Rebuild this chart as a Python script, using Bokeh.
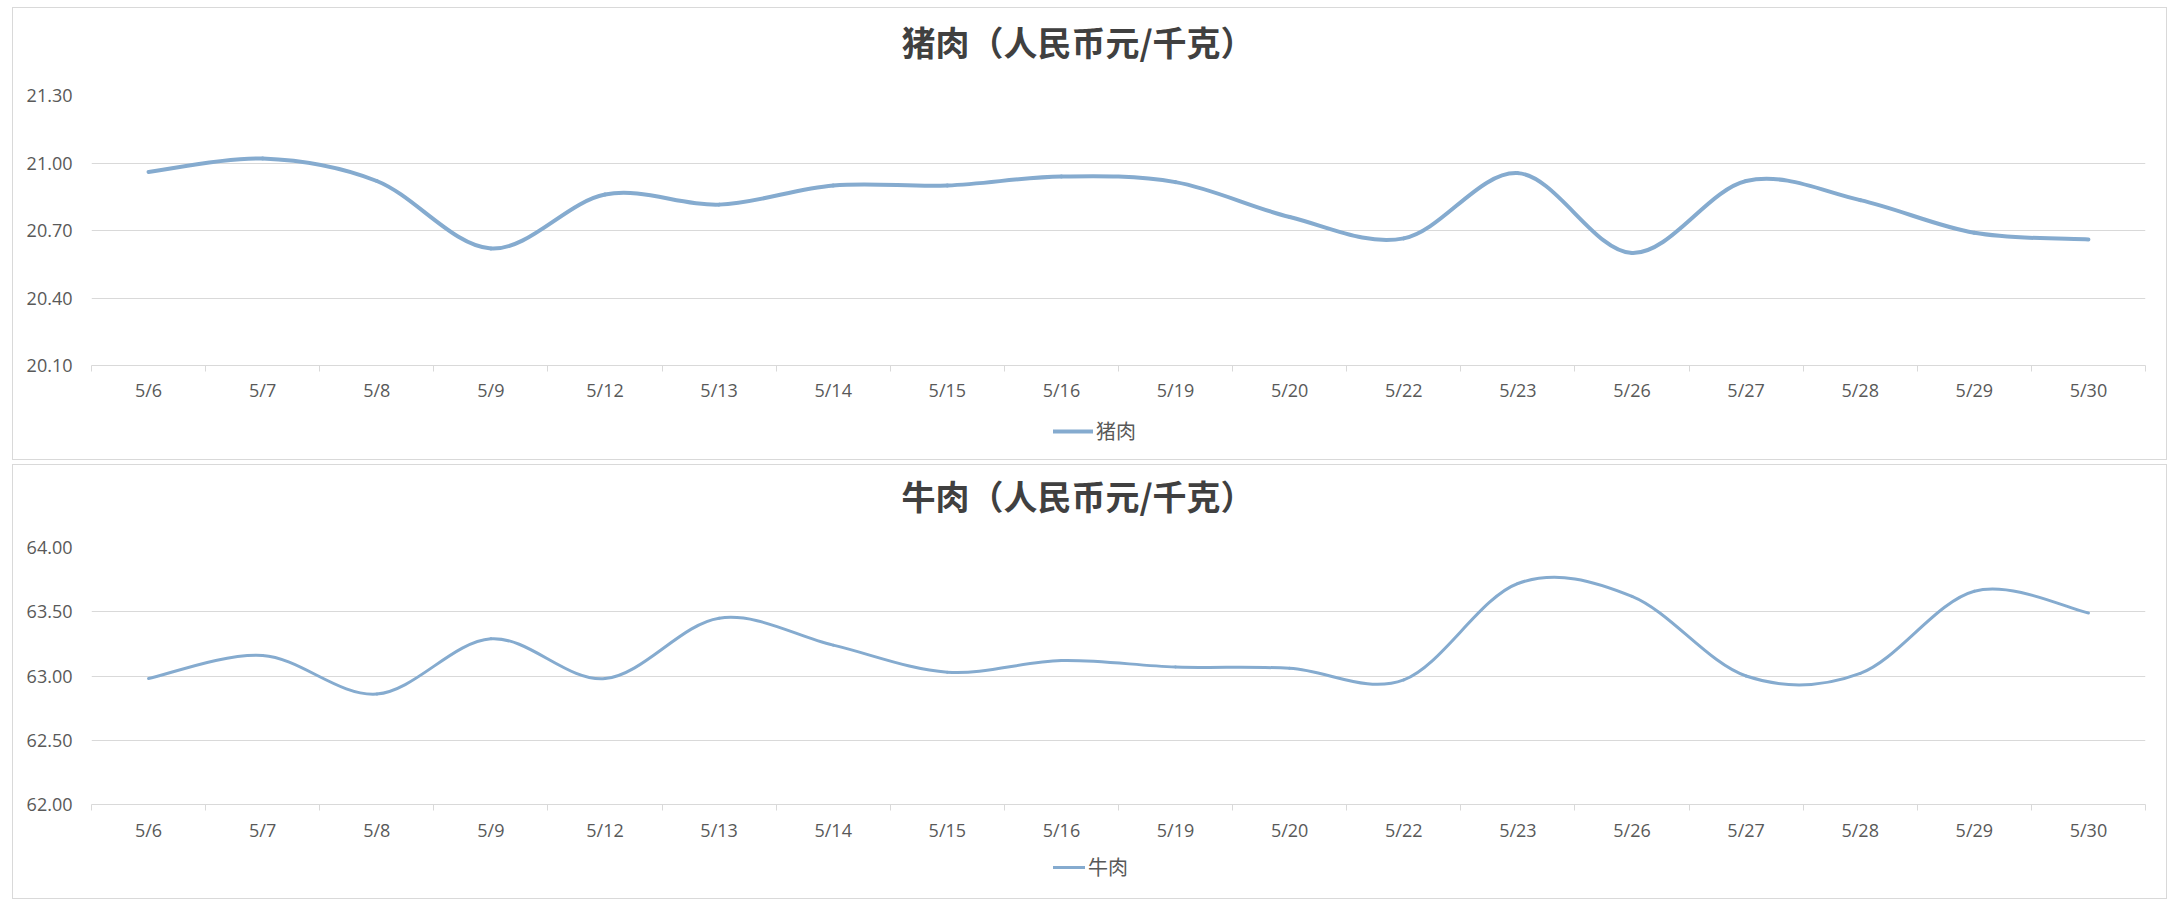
from bokeh.plotting import figure
from bokeh.models import Range1d, FixedTicker, Legend, LegendItem, ColumnDataSource, Label
from bokeh.layouts import column
from bokeh.embed import file_html
from bokeh.resources import INLINE

dates = ["5/6", "5/7", "5/8", "5/9", "5/12", "5/13", "5/14", "5/15", "5/16",
         "5/19", "5/20", "5/22", "5/23", "5/26", "5/27", "5/28", "5/29", "5/30"]
pork = [20.96, 21.02, 20.92, 20.62, 20.86, 20.815, 20.90, 20.90, 20.94,
        20.915, 20.76, 20.665, 20.955, 20.60, 20.92, 20.835, 20.69, 20.66]
beef = [62.98, 63.16, 62.86, 63.29, 62.98, 63.45, 63.24, 63.03, 63.12,
        63.07, 63.06, 62.97, 63.72, 63.62, 63.00, 63.02, 63.66, 63.49]
pork_ticks = [20.10, 20.40, 20.70, 21.00, 21.30]
beef_ticks = [62.00, 62.50, 63.00, 63.50, 64.00]
pork_title = "猪肉（人民币元/千克）"
beef_title = "牛肉（人民币元/千克）"
pork_name = "猪肉"
beef_name = "牛肉"

LINE = "#85abcf"
GRID = "#d9d9d9"
TXT = "#595959"
CJK = "Noto Sans CJK SC"
NUM = "Open Sans"
W = 2153
LEFT, FRAME_W = 78, 2054


def smooth_cols(xs, ys):
    n = len(xs)
    d = dict(x0=[], y0=[], x1=[], y1=[], cx0=[], cy0=[], cx1=[], cy1=[])
    for i in range(n - 1):
        a = i - 1 if i > 0 else i
        b = i + 2 if i + 2 < n else i + 1
        d["x0"].append(xs[i]); d["y0"].append(ys[i])
        d["x1"].append(xs[i + 1]); d["y1"].append(ys[i + 1])
        d["cx0"].append(xs[i] + (xs[i + 1] - xs[a]) / 6.0)
        d["cy0"].append(ys[i] + (ys[i + 1] - ys[a]) / 6.0)
        d["cx1"].append(xs[i + 1] - (xs[b] - xs[i]) / 6.0)
        d["cy1"].append(ys[i + 1] - (ys[b] - ys[i]) / 6.0)
    return d


def blank(height):
    f = figure(width=W, height=height, output_backend="svg", toolbar_location=None,
               x_range=Range1d(0, W), y_range=Range1d(0, height),
               x_axis_type=None, y_axis_type=None,
               min_border=0, min_border_left=0, min_border_right=0,
               min_border_top=0, min_border_bottom=0,
               background_fill_color="white", border_fill_color="white")
    f.outline_line_color = None
    f.xgrid.grid_line_color = None
    f.ygrid.grid_line_color = None
    return f


def make_chart(values, ticks, title, name, head_h, title_y, frame_h, lw, x_standoff,
               leg_y, glyph_w):
    n = len(dates)
    # header with title
    head = blank(head_h)
    head.add_layout(Label(x=1034, y=head_h - title_y, text=title,
                          text_font=CJK, text_font_size="34px", text_font_style="bold",
                          text_color="#404040", text_align="center", text_baseline="middle"))

    # main plot
    top, bottom = 15, 46
    p = figure(width=W, height=top + frame_h + bottom, output_backend="svg",
               toolbar_location=None,
               x_range=Range1d(0, n), y_range=Range1d(ticks[0], ticks[-1]),
               min_border_left=LEFT, min_border_right=W - LEFT - FRAME_W,
               min_border_top=top, min_border_bottom=bottom,
               background_fill_color="white", border_fill_color="white")
    p.outline_line_color = None
    xs = [i + 0.5 for i in range(n)]
    src = ColumnDataSource(smooth_cols(xs, values))
    p.bezier(x0="x0", y0="y0", x1="x1", y1="y1", cx0="cx0", cy0="cy0", cx1="cx1", cy1="cy1",
             source=src, line_color=LINE, line_width=lw, line_cap="round")

    xa = p.xaxis[0]
    xa.ticker = FixedTicker(ticks=xs, minor_ticks=list(range(n + 1)))
    xa.major_label_overrides = {x: lab for x, lab in zip(xs, dates)}
    xa.major_tick_line_color = None
    xa.major_tick_out = 0
    xa.major_tick_in = 0
    xa.minor_tick_line_color = GRID
    xa.minor_tick_out = 6
    xa.minor_tick_in = 0
    xa.axis_line_color = GRID
    xa.major_label_text_font = NUM
    xa.major_label_text_font_size = "18px"
    xa.major_label_text_color = TXT
    xa.major_label_standoff = x_standoff

    ya = p.yaxis[0]
    ya.ticker = FixedTicker(ticks=ticks)
    ya.major_label_overrides = {t: "%.2f" % t for t in ticks}
    ya.axis_line_color = None
    ya.major_tick_line_color = None
    ya.minor_tick_line_color = None
    ya.major_tick_out = 0
    ya.major_tick_in = 0
    ya.major_label_text_font = NUM
    ya.major_label_text_font_size = "18px"
    ya.major_label_text_color = TXT
    ya.major_label_standoff = 19

    p.xgrid.grid_line_color = None
    p.ygrid.grid_line_color = GRID
    p.ygrid.grid_line_width = 1

    # footer with legend (the key line is drawn from a renderer kept outside the visible range)
    foot = blank(48)
    key = foot.line(x=[-20, -10], y=[-20, -10], line_color=LINE, line_width=lw,
                    line_cap="round")
    leg = Legend(items=[LegendItem(label=name, renderers=[key])],
                 location=(962, leg_y), orientation="horizontal",
                 glyph_width=glyph_w, glyph_height=20, label_standoff=3,
                 padding=0, margin=0, spacing=0, border_line_color=None,
                 background_fill_alpha=0,
                 label_text_font=CJK, label_text_font_size="20px", label_text_color=TXT)
    foot.add_layout(leg, "center")

    return column(head, p, foot, spacing=0, styles={"border": "1px solid #d9d9d9"})


c1 = make_chart(pork, pork_ticks, pork_title, pork_name, 72, 33, 270, 4, 6, 14, 40)
c2 = make_chart(beef, beef_ticks, beef_title, beef_name, 67, 30, 257, 3, 7, 17, 32)
layout = column(c1, c2, spacing=4, margin=(7, 0, 0, 12))

open("out.html", "w").write(file_html(layout, INLINE))
